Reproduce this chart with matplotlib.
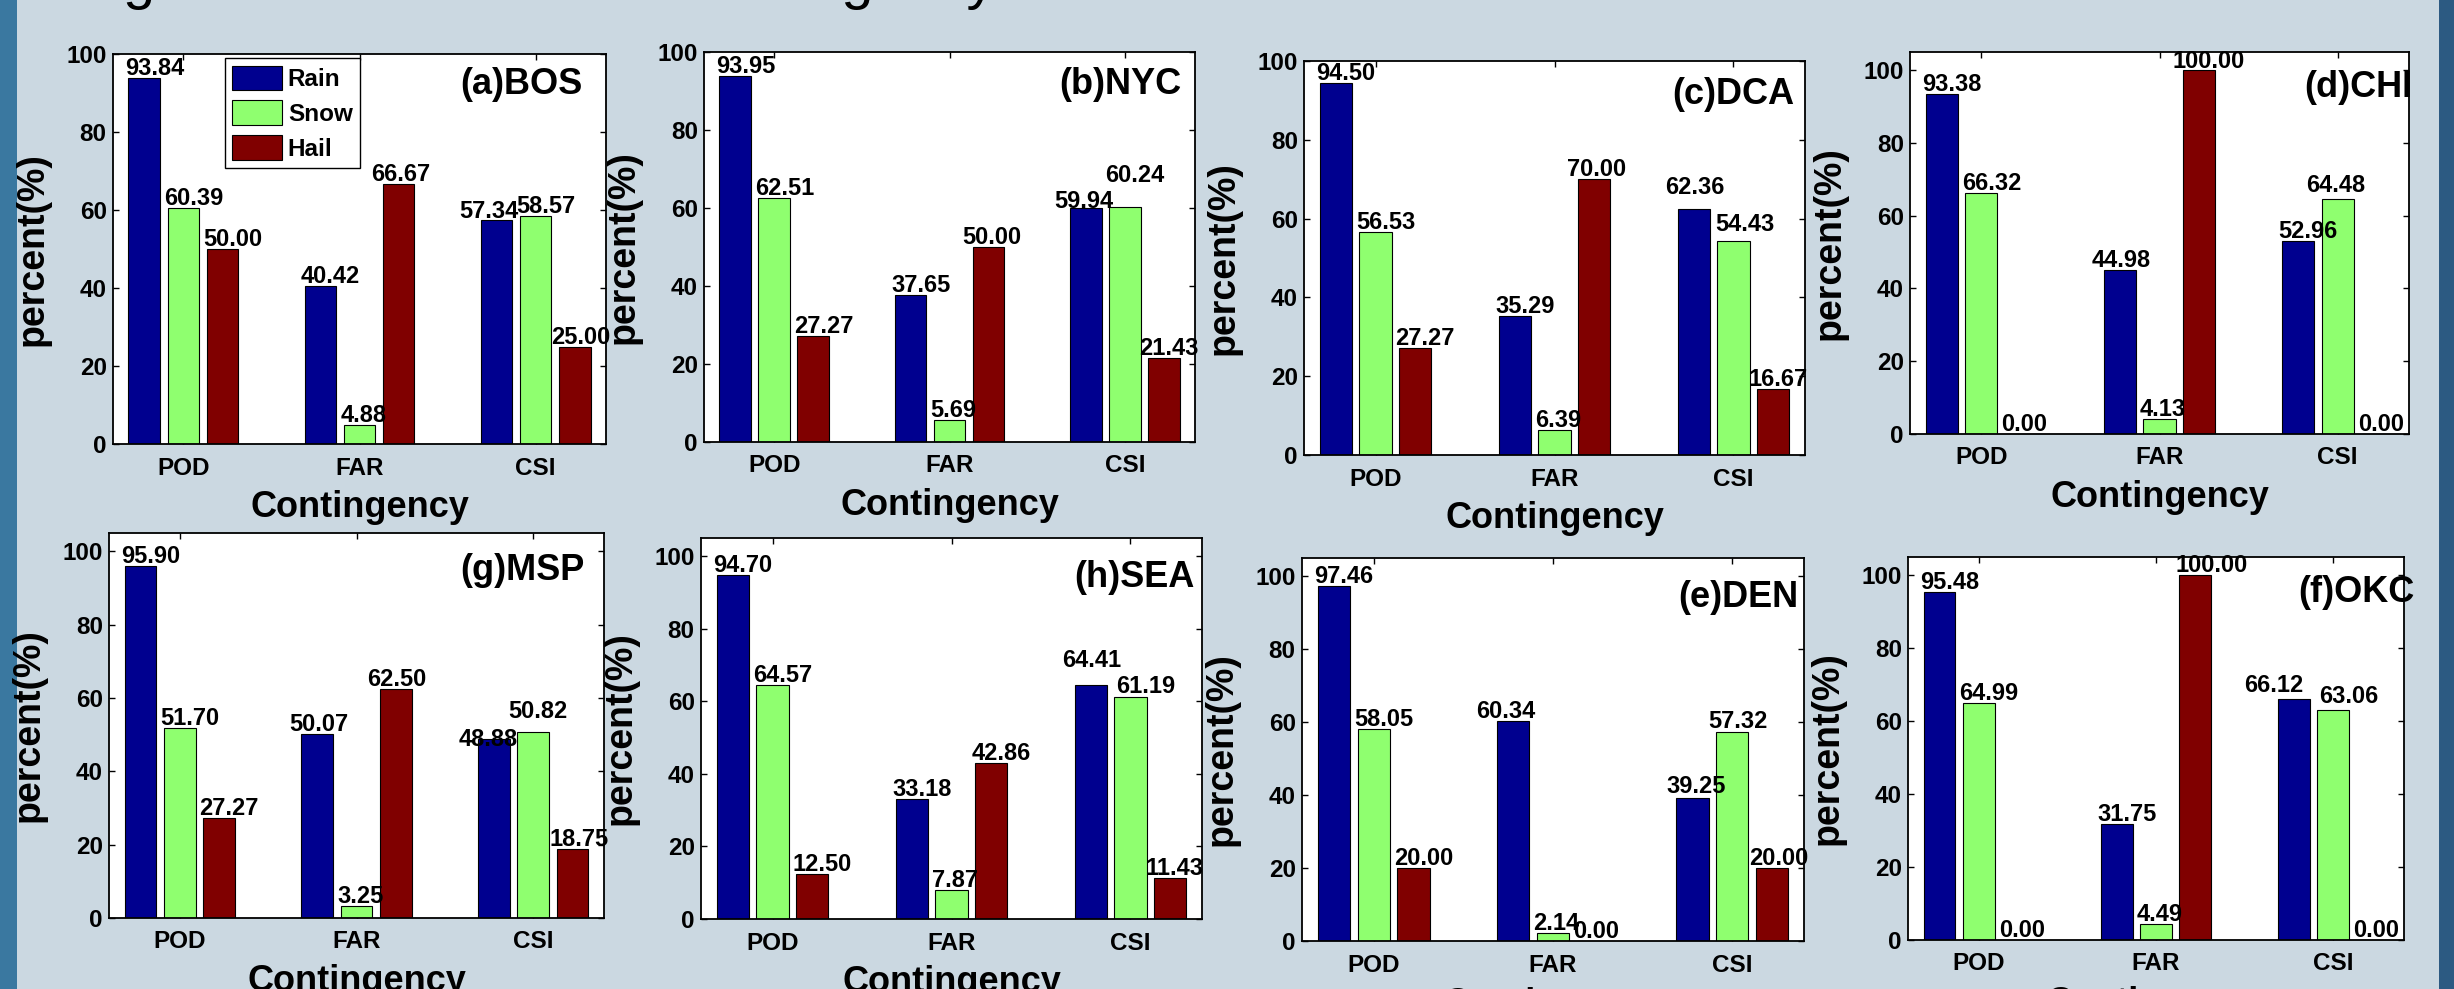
import matplotlib
matplotlib.use('Agg')
import matplotlib.pyplot as plt
from matplotlib.patches import Rectangle

# ---------------- data ----------------
categories = ['POD', 'FAR', 'CSI']
series_names = ['Rain', 'Snow', 'Hail']
panel_titles = ['(a)BOS', '(b)NYC', '(c)DCA', '(d)CHI',
                '(g)MSP', '(h)SEA', '(e)DEN', '(f)OKC']

bos_rain = [93.84, 40.42, 57.34]
bos_snow = [60.39, 4.88, 58.57]
bos_hail = [50.00, 66.67, 25.00]

nyc_rain = [93.95, 37.65, 59.94]
nyc_snow = [62.51, 5.69, 60.24]
nyc_hail = [27.27, 50.00, 21.43]

dca_rain = [94.50, 35.29, 62.36]
dca_snow = [56.53, 6.39, 54.43]
dca_hail = [27.27, 70.00, 16.67]

chi_rain = [93.38, 44.98, 52.96]
chi_snow = [66.32, 4.13, 64.48]
chi_hail = [0.00, 100.00, 0.00]

msp_rain = [95.90, 50.07, 48.88]
msp_snow = [51.70, 3.25, 50.82]
msp_hail = [27.27, 62.50, 18.75]

sea_rain = [94.70, 33.18, 64.41]
sea_snow = [64.57, 7.87, 61.19]
sea_hail = [12.50, 42.86, 11.43]

den_rain = [97.46, 60.34, 39.25]
den_snow = [58.05, 2.14, 57.32]
den_hail = [20.00, 0.00, 20.00]

okc_rain = [95.48, 31.75, 66.12]
okc_snow = [64.99, 4.49, 63.06]
okc_hail = [0.00, 100.00, 0.00]

panel_data = [
    (bos_rain, bos_snow, bos_hail),
    (nyc_rain, nyc_snow, nyc_hail),
    (dca_rain, dca_snow, dca_hail),
    (chi_rain, chi_snow, chi_hail),
    (msp_rain, msp_snow, msp_hail),
    (sea_rain, sea_snow, sea_hail),
    (den_rain, den_snow, den_hail),
    (okc_rain, okc_snow, okc_hail),
]

# ---------------- layout / style ----------------
W, H = 2454, 989
colors = ['#00008F', '#8FFF6F', '#800000']
FONT = ['Liberation Sans', 'DejaVu Sans']
plt.rcParams['font.family'] = FONT
plt.rcParams['font.weight'] = 'bold'

# axes boxes in pixels: left, top, right, bottom
boxes = [
    (113, 54, 606, 444),
    (704, 52, 1195, 442),
    (1304, 61, 1805, 455),
    (1910, 52, 2409, 434),
    (109, 533, 604, 918),
    (701, 538, 1202, 919),
    (1302, 558, 1804, 941),
    (1908, 557, 2404, 940),
]
ytops = [100, 100, 100, 105, 105, 105, 105, 105]
# panel-label placement (axes fraction: left, top)
title_pos = [
    (0.705, 0.967), (0.723, 0.962), (0.735, 0.959), (0.790, 0.953),
    (0.710, 0.948), (0.746, 0.942), (0.749, 0.943), (0.786, 0.953),
]
# hand-placed value labels: (panel, series, category) -> (dx px, dy px)
label_shift = {
    (0, 0, 2): (-18, -1), (0, 2, 1): (-8, 0), (0, 2, 2): (-4, 0),
    (1, 0, 2): (-12, -3), (1, 1, 2): (0, 22), (1, 2, 1): (-7, 0),
    (1, 2, 2): (-5, 0),
    (2, 0, 2): (-9, 12), (2, 1, 2): (2, 7), (2, 2, 1): (-8, 0),
    (2, 2, 2): (-5, 0),
    (3, 0, 1): (-9, 0), (3, 1, 2): (-12, 4), (3, 2, 1): (-7, -1),
    (4, 0, 1): (-9, 0), (4, 0, 2): (-16, -10), (4, 1, 2): (-6, 11),
    (4, 2, 1): (-9, 0), (4, 2, 2): (-4, 0),
    (5, 0, 2): (-9, 15), (5, 1, 2): (5, 1), (5, 2, 2): (-5, 0),
    (6, 0, 1): (-17, 0), (6, 0, 2): (-6, 2), (6, 1, 2): (-4, 1),
    (6, 2, 2): (-3, 0),
    (7, 0, 2): (-30, 4), (7, 1, 2): (5, 4),
}

fig = plt.figure(figsize=(W / 100, H / 100), dpi=100)
fig.patch.set_facecolor('#CBD8E1')

# background side strips
fig.add_artist(Rectangle((0, 0), 17 / W, 1, transform=fig.transFigure,
                         facecolor='#3A78A0', edgecolor='none', zorder=0))
fig.add_artist(Rectangle((2439 / W, 0), 15 / W, 1, transform=fig.transFigure,
                         facecolor='#2C5A82', edgecolor='none', zorder=0))

# title of the slide, almost entirely above the visible area
fig.text(75 / W, 1 + 2 / H, 'Figure 4  Results of the contingency',
         fontsize=41.5, fontweight='normal', ha='left', va='baseline',
         color='black')

xpos = [1, 2, 3]
offsets = [-0.222, 0.0, 0.222]
bar_w = 0.18
px2pt = 72 / 100

for i, (box, vals) in enumerate(zip(boxes, panel_data)):
    l, t, r, b = box
    ax = fig.add_axes([l / W, 1 - b / H, (r - l) / W, (b - t) / H])
    ax.set_facecolor('white')
    for s in range(3):
        xs = [x + offsets[s] for x in xpos]
        ax.bar(xs, vals[s], width=bar_w, color=colors[s], edgecolor='black',
               linewidth=0.8, label=series_names[s], zorder=2)
        for c in range(3):
            dx, dy = label_shift.get((i, s, c), (0, 0))
            ax.annotate(f'{vals[s][c]:.2f}', xy=(xs[c] - 0.11, vals[s][c]),
                        xytext=(dx * px2pt, (3 + dy) * px2pt),
                        textcoords='offset points', ha='left', va='baseline',
                        fontsize=17, fontweight='bold', color='black',
                        annotation_clip=False, zorder=5)
    ax.set_xlim(0.6, 3.4)
    ax.set_ylim(0, ytops[i])
    ax.set_xticks(xpos)
    ax.set_xticklabels(categories)
    ax.set_yticks([0, 20, 40, 60, 80, 100])
    ax.tick_params(axis='both', direction='in', length=4, width=1,
                   top=True, right=True, labelsize=17.5)
    ax.tick_params(axis='x', pad=9)
    ax.tick_params(axis='y', pad=4.5)
    for lab in ax.get_xticklabels() + ax.get_yticklabels():
        lab.set_fontweight('bold')
    for sp in ax.spines.values():
        sp.set_linewidth(1.3)
        sp.set_color('black')
    wpx, hpx = r - l, b - t
    ax.set_xlabel('Contingency', fontsize=26, fontweight='bold')
    ax.xaxis.set_label_coords(0.5, -46 / hpx)
    ax.set_ylabel('percent(%)', fontsize=27, fontweight='bold')
    ax.yaxis.set_label_coords(-62 / wpx, 0.5)
    tx, ty = title_pos[i]
    ax.text(tx, ty, panel_titles[i], transform=ax.transAxes, ha='left',
            va='top', fontsize=26, fontweight='bold', zorder=6)
    if i == 0:
        ax.legend(loc='upper left', bbox_to_anchor=(0.227, 0.989),
                  borderaxespad=0, frameon=True, fancybox=False,
                  edgecolor='black', framealpha=1, handlelength=2.05,
                  handleheight=1.16, labelspacing=0.39, borderpad=0.3,
                  handletextpad=0.24, prop={'weight': 'bold', 'size': 17.5})

fig.savefig('out.png', dpi=100, facecolor=fig.get_facecolor())
